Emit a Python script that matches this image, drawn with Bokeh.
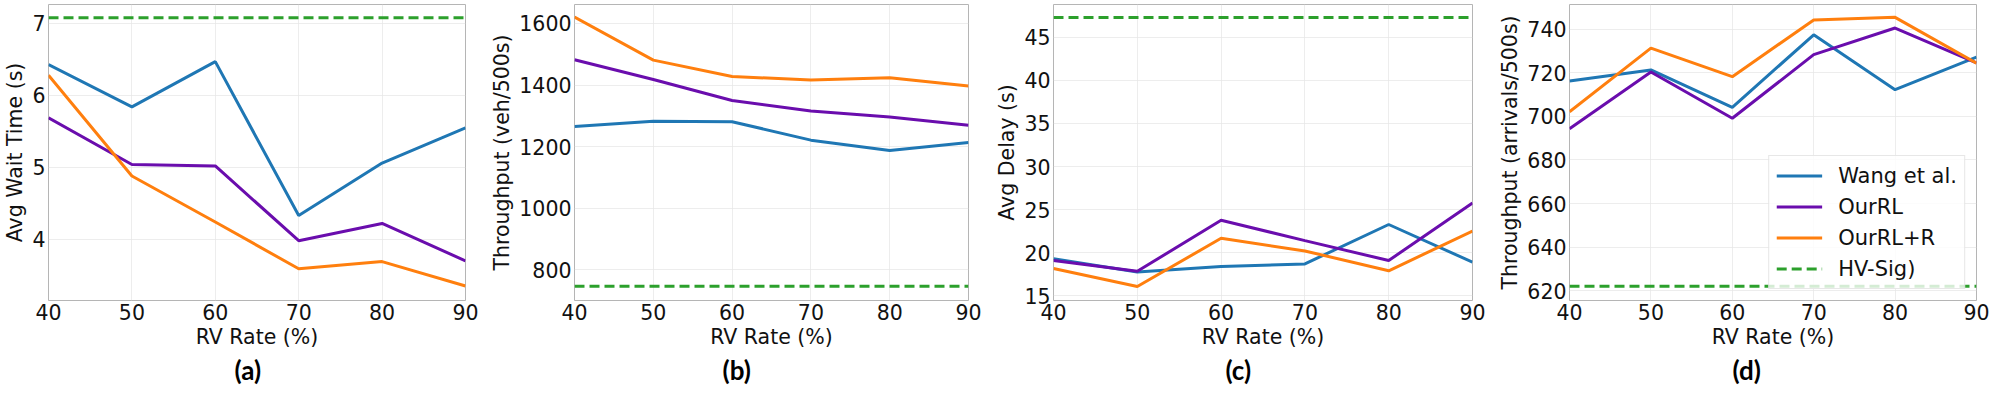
from bokeh.plotting import figure
from bokeh.layouts import row
from bokeh.models import Range1d, FixedTicker, Legend, LegendItem, Title
from bokeh.embed import file_html
from bokeh.resources import INLINE

# ---------------- data ----------------
rv_rate = [40, 50, 60, 70, 80, 90]
series_names = ["Wang et al.", "OurRL", "OurRL+R", "HV-Sig)"]

wait_wang = [6.43, 5.84, 6.47, 4.33, 5.06, 5.55]
wait_ourrl = [5.69, 5.04, 5.02, 3.98, 4.22, 3.70]
wait_ourrlr = [6.28, 4.88, 4.24, 3.59, 3.69, 3.35]
wait_hv = 7.08

thr_wang = [1265, 1282, 1281, 1221, 1187, 1213]
thr_ourrl = [1482, 1418, 1350, 1316, 1296, 1269]
thr_ourrlr = [1621, 1481, 1428, 1416, 1424, 1397]
thr_hv = 746

delay_wang = [19.3, 17.76, 18.4, 18.7, 23.27, 18.9]
delay_ourrl = [19.09, 17.84, 23.76, 21.4, 19.09, 25.76]
delay_ourrlr = [18.17, 16.07, 21.67, 20.2, 17.9, 22.5]
delay_hv = 47.28

arr_wang = [716.2, 721.3, 704.1, 737.4, 712.2, 727.2]
arr_ourrl = [694.3, 720.3, 699.1, 728.3, 740.5, 724.5]
arr_ourrlr = [702.1, 731.3, 718.2, 744.2, 745.4, 724.4]
arr_hv = 622

x_ticks = [40, 50, 60, 70, 80, 90]
wait_ticks = [4, 5, 6, 7]
thr_ticks = [800, 1000, 1200, 1400, 1600]
delay_ticks = [15, 20, 25, 30, 35, 40, 45]
arr_ticks = [620, 640, 660, 680, 700, 720, 740]

# ---------------- style ----------------
C_BLUE = "#1f77b4"
C_PURPLE = "#6a0dad"
C_ORANGE = "#ff7f0e"
C_GREEN = "#2ca02c"
FONT = "DejaVu Sans"
FS = "20.5px"
LW = 3


def make_panel(width, left, right, yr, yticks, ylabel, wang, ourrl, ourrlr, hv,
               tag, tag_offset, legend=False):
    p = figure(width=width, height=385, output_backend="svg", toolbar_location=None,
               x_range=Range1d(40, 90), y_range=Range1d(*yr),
               min_border_left=left, min_border_right=right,
               min_border_top=4, min_border_bottom=0)
    p.background_fill_color = "white"
    p.border_fill_color = "white"
    p.outline_line_color = "#b5b5b5"
    p.outline_line_width = 1

    p.xaxis.ticker = FixedTicker(ticks=x_ticks)
    p.yaxis.ticker = FixedTicker(ticks=yticks)
    p.xaxis.axis_label = "RV Rate (%)"
    p.yaxis.axis_label = ylabel
    for ax in (p.xaxis, p.yaxis):
        ax.axis_line_color = None
        ax.major_tick_line_color = None
        ax.minor_tick_line_color = None
        ax.major_tick_out = 0
        ax.major_tick_in = 0
        ax.major_label_standoff = 3
        ax.axis_label_standoff = 2
        ax.major_label_text_font = FONT
        ax.major_label_text_font_size = FS
        ax.major_label_text_color = "#111111"
        ax.axis_label_text_font = FONT
        ax.axis_label_text_font_size = FS
        ax.axis_label_text_font_style = "normal"
        ax.axis_label_text_color = "#111111"
    p.grid.grid_line_color = "#e6e6e6"
    p.grid.grid_line_alpha = 0.7

    r_w = p.line(rv_rate, wang, line_color=C_BLUE, line_width=LW)
    r_o = p.line(rv_rate, ourrl, line_color=C_PURPLE, line_width=LW)
    r_r = p.line(rv_rate, ourrlr, line_color=C_ORANGE, line_width=LW)
    r_h = p.line(rv_rate, [hv] * len(rv_rate), line_color=C_GREEN, line_width=LW,
                 line_dash="10 5")

    if legend:
        lg = Legend(items=[LegendItem(label=series_names[0], renderers=[r_w]),
                           LegendItem(label=series_names[1], renderers=[r_o]),
                           LegendItem(label=series_names[2], renderers=[r_r]),
                           LegendItem(label=series_names[3], renderers=[r_h])],
                    location="bottom_right", margin=11, padding=7, spacing=6,
                    glyph_width=46, glyph_height=25, label_standoff=16,
                    label_text_font=FONT, label_text_font_size="21px",
                    label_text_color="#111111",
                    background_fill_color="white", background_fill_alpha=0.8,
                    border_line_color="#d0d0d0", border_line_width=1)
        p.add_layout(lg)

    t = Title(text=tag, align="left", offset=tag_offset, text_font="Lato",
              text_font_size="26px", text_font_style="bold", text_color="black",
              standoff=0)
    p.add_layout(t, "below")
    return p


pa = make_panel(481, 33, 16, (3.149, 7.264), wait_ticks, "Avg Wait Time (s)",
                wait_wang, wait_ourrl, wait_ourrlr, wait_hv, "(a)", 186)
pb = make_panel(507, 93, 20, (700.1, 1661.6), thr_ticks, "Throughput (veh/500s)",
                thr_wang, thr_ourrl, thr_ourrlr, thr_hv, "(b)", 148)
pc = make_panel(502, 65, 18, (14.45, 48.8), delay_ticks, "Avg Delay (s)",
                delay_wang, delay_ourrl, delay_ourrlr, delay_hv, "(c)", 172)
pd = make_panel(502, 79, 16, (615.5, 751.3), arr_ticks, "Throughput (arrivals/500s)",
                arr_wang, arr_ourrl, arr_ourrlr, arr_hv, "(d)", 163, legend=True)

layout = row(pa, pb, pc, pd, spacing=0)
open("out.html", "w").write(file_html(layout, INLINE))
